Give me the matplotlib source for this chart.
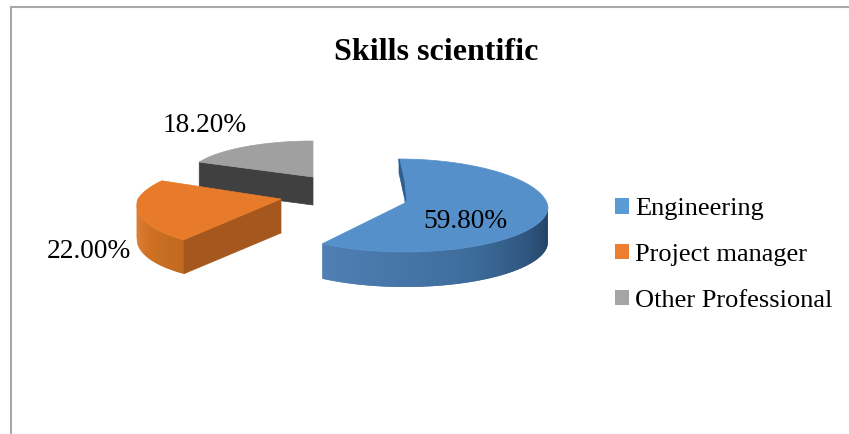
#!/usr/bin/env python3
"""Exploded pseudo-3D pie of scientific skills."""

import numpy as np
import matplotlib
matplotlib.use("Agg")
import matplotlib.pyplot as plt
from matplotlib.colors import LinearSegmentedColormap
from matplotlib.patches import Patch

categories = ["Engineering", "Project manager", "Other Professional"]
values = [59.8, 22.0, 18.2]
value_labels = ["59.80%", "22.00%", "18.20%"]
top_colors = ["#5590CB", "#E87B2A", "#A0A0A0"]
legend_colors = ["#5B9BD5", "#ED7D31", "#A5A5A5"]
cut_colors = [None, "#A5571D", "#404040"]
rim_colors = [["#507FB4", "#3D6C9C", "#1F3F5F"], ["#C06A20", "#E47A2A"], ["#808080", "#808080"]]

# layout, in pixels of the 849x434 picture
apexes = [(405, 203), (281, 199), (313, 177)]
ell_centers = [(405, 207), (281, 199), (313, 177)]
rx = [143, 143, 125]
ry_back = [48, 44, 36]
ry_front = [45, 50, 38]
shear_back = [0.136, -0.6, 0.0]
shear_front = [0.0, -0.36, 0.0]
depths = [35, 34, 28]
label_pos = [(465, 221), (89, 252), (205, 126)]

plt.rcParams["font.family"] = ["Liberation Serif", "DejaVu Serif"]


def rim_point(i, theta, drop=0.0):
    theta = np.asarray(theta, dtype=float)
    c = np.cos(np.radians(theta))
    cx, cy = ell_centers[i]
    dy = np.where(c > 0, -ry_back[i] * c, -ry_front[i] * c)
    shear = np.where(c > 0, shear_back[i], shear_front[i])
    return cx + rx[i] * np.sin(np.radians(theta)) + shear * dy, cy + dy + drop


def main():
    fig = plt.figure(figsize=(8.49, 4.34), dpi=100)
    ax = fig.add_axes([0, 0, 1, 1])
    ax.set_xlim(0, 849)
    ax.set_ylim(434, 0)
    ax.axis("off")

    # chart frame: only top and left survive the crop
    ax.plot([11, 11, 849], [434, 7, 7], color="#A8A8A8", lw=1.5, solid_joinstyle="miter")

    edges = np.concatenate([[0], np.cumsum(values)]) * 3.6

    # back slice first, so the big one sits on top
    for i in [2, 1, 0]:
        start, end = edges[i], edges[i + 1]
        cx, cy = apexes[i]
        d = depths[i]

        # outer rim, only the part that faces the viewer; strips overlap to hide seams
        lo, hi = max(start, 90), min(end, 270)
        if hi > lo:
            cmap = LinearSegmentedColormap.from_list("rim", rim_colors[i])
            th = np.linspace(lo, hi, 80)
            for k in range(len(th) - 1):
                t1 = th[min(k + 2, len(th) - 1)]
                x0, y0 = rim_point(i, th[k])
                x1, y1 = rim_point(i, t1)
                x2, y2 = rim_point(i, t1, d)
                x3, y3 = rim_point(i, th[k], d)
                c = cmap(1 - k / (len(th) - 2)) if i == 0 else cmap(k / (len(th) - 2))
                ax.fill([x0, x1, x2, x3], [y0, y1, y2, y3], facecolor=c, edgecolor="none")

        # cut face along the starting edge
        if cut_colors[i] is not None:
            xe, ye = rim_point(i, start)
            ax.fill([cx, xe, xe, cx], [cy, ye, ye + d, cy + d], color=cut_colors[i], lw=0.5)

        # top face
        th = np.linspace(start, end, 120)
        xs, ys = rim_point(i, th)
        ax.fill(np.r_[cx, xs], np.r_[cy, ys], color=top_colors[i], lw=0.5)

    # small dark sliver at the notch of the big slice
    cx, cy = apexes[0]
    ax.fill([cx - 6, cx - 6, cx - 2, cx + 1, cx - 1, cx - 6],
            [cy - 44, cy - 30, cy - 12, cy - 2, cy - 22, cy - 44],
            color="#2F5E8E", lw=0.5)

    for label, (x, y) in zip(value_labels, label_pos):
        ax.text(x, y, label, fontsize=19.7, color="black", ha="center", va="center")

    ax.text(436, 53, "Skills scientific", fontsize=23, fontweight="bold", color="black",
            ha="center", va="center")

    handles = [Patch(facecolor=c, edgecolor="none") for c in legend_colors]
    ax.legend(handles, categories, loc="center left", bbox_to_anchor=(615 / 849, 1 - 255 / 434),
              frameon=False, fontsize=19, handlelength=0.53, handleheight=0.53,
              handletextpad=0.23, labelspacing=0.9, borderpad=0, borderaxespad=0)

    fig.savefig("out.png", dpi=100)
    plt.close(fig)


if __name__ == "__main__":
    main()
